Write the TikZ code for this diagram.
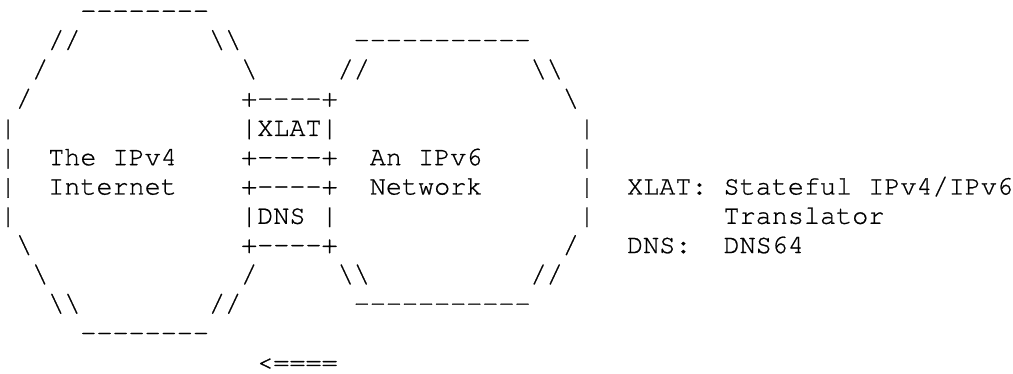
\documentclass[tikz,border=0pt]{standalone}
\usepackage{fontspec}
\setmonofont[FakeBold=0.8]{texgyrecursor-regular.otf}
\newcommand{\bsl}{\textbackslash}
\tikzset{asc/.style={font=\ttfamily\fontsize{10}{10}\selectfont,anchor=base west,inner sep=0pt,outer sep=0pt}}

\begin{document}
\begin{tikzpicture}[x=6pt,y=-10.93pt]
                      \useasboundingbox(0,-0.64)rectangle(63,12.128);
                      % IPv4 cloud
                      \node[asc](v4top)at(5,0){--------};
                      \node[asc](v4nw)at(3,1){//};
                      \node[asc](v4ne)at(13,1){\bsl\bsl};
                      \node[asc](v4w2)at(2,2){/};
                      \node[asc](v4e2)at(15,2){\bsl};
                      \node[asc](v4w3)at(1,3){/};
                      \foreach \r in {4,...,7} \node[asc](v4w\r)at(0,\r){|};
                      \node[asc](v4w8)at(1,8){\bsl};
                      \node[asc](v4w9)at(2,9){\bsl};
                      \node[asc](v4e9)at(15,9){/};
                      \node[asc](v4sw)at(3,10){\bsl\bsl};
                      \node[asc](v4se)at(13,10){//};
                      \node[asc](v4bot)at(5,11){--------};
                      \node[asc](v4l1)at(3,5){The IPv4};
                      \node[asc](v4l2)at(3,6){Internet};
                      % IPv6 cloud
                      \node[asc](v6top)at(22,1){-----------};
                      \node[asc](v6nw)at(21,2){//};
                      \node[asc](v6ne)at(33,2){\bsl\bsl};
                      \node[asc](v6e3)at(35,3){\bsl};
                      \foreach \r in {4,...,7} \node[asc](v6e\r)at(36,\r){|};
                      \node[asc](v6e8)at(35,8){/};
                      \node[asc](v6sw)at(21,9){\bsl\bsl};
                      \node[asc](v6se)at(33,9){//};
                      \node[asc](v6bot)at(22,10){-----------};
                      \node[asc](v6l1)at(23,5){An IPv6};
                      \node[asc](v6l2)at(23,6){Network};
                      % XLAT and DNS boxes
                      \foreach \r in {3,5,6,8} \node[asc](bx\r)at(15,\r){+----+};
                      \node[asc](xlat)at(15,4){|XLAT|};
                      \node[asc](dns)at(15,7){|DNS};
                      \node[asc](dnsr)at(20,7){|};
                      % legend and direction
                      \node[asc](keyx)at(39,6){XLAT: Stateful IPv4/IPv6};
                      \node[asc](keyx2)at(45,7){Translator};
                      \node[asc](keyd)at(39,8){DNS:};
                      \node[asc](keyd2)at(45,8){DNS64};
                      \node[asc](dir)at(16,12){<====};
                  \end{tikzpicture}
\end{document}
